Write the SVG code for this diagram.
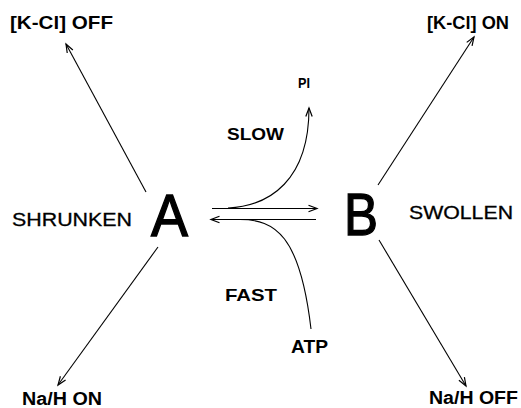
<svg xmlns="http://www.w3.org/2000/svg" width="521" height="408" viewBox="0 0 521 408">
<defs>
<style>
.lbl{font-family:"Liberation Sans",Arial,sans-serif;font-weight:bold;fill:#000}
.st{font-family:"Liberation Sans",Arial,sans-serif;font-size:18px;fill:#000;stroke:#000;stroke-width:0.3}
.big{font-family:"Liberation Sans",Arial,sans-serif;font-size:60px;fill:#000;stroke:#000;stroke-width:1.4}
.ln{fill:none;stroke:#000;stroke-width:1.1;marker-end:url(#ah)}
</style>
<marker id="ah" markerUnits="userSpaceOnUse" markerWidth="10" markerHeight="8" refX="8.5" refY="3.5" orient="auto" overflow="visible">
<path d="M0,0.3 L8.5,3.5 L0,6.7" fill="none" stroke="#000" stroke-width="1.2"/>
</marker>
</defs>
<rect width="521" height="408" fill="#fff"/>
<g id="nodeA"><text class="big" x="151" y="236" textLength="37" lengthAdjust="spacingAndGlyphs">A</text></g>
<g id="nodeB"><text class="big" x="344" y="235" textLength="34" lengthAdjust="spacingAndGlyphs">B</text></g>
<g id="shrunken"><text class="st" x="12" y="226" textLength="120" lengthAdjust="spacingAndGlyphs">SHRUNKEN</text></g>
<g id="swollen"><text class="st" x="409" y="219" textLength="104" lengthAdjust="spacingAndGlyphs">SWOLLEN</text></g>
<g id="kcl-off"><text class="lbl" font-size="19" x="10" y="29" textLength="103" lengthAdjust="spacingAndGlyphs">[K-Cl] OFF</text></g>
<g id="kcl-on"><text class="lbl" font-size="19" x="427" y="29" textLength="82" lengthAdjust="spacingAndGlyphs">[K-Cl] ON</text></g>
<g id="nah-on"><text class="lbl" font-size="18" x="22" y="405" textLength="80" lengthAdjust="spacingAndGlyphs">Na/H ON</text></g>
<g id="nah-off"><text class="lbl" font-size="18" x="429" y="404" textLength="89" lengthAdjust="spacingAndGlyphs">Na/H OFF</text></g>
<g id="pi"><text class="lbl" font-size="14" x="298" y="88" textLength="12" lengthAdjust="spacingAndGlyphs">PI</text></g>
<g id="atp"><text class="lbl" font-size="19" x="291" y="353" textLength="37" lengthAdjust="spacingAndGlyphs">ATP</text></g>
<g id="slow"><text class="lbl" font-size="17" x="227" y="140" textLength="57" lengthAdjust="spacingAndGlyphs">SLOW</text></g>
<g id="fast"><text class="lbl" font-size="17" x="225" y="301" textLength="52" lengthAdjust="spacingAndGlyphs">FAST</text></g>
<g id="connectors">
<path class="ln" d="M146,192 L66,44"/>
<path class="ln" d="M378,185 L474,37"/>
<path class="ln" d="M158,247 L58,385"/>
<path class="ln" d="M379,240 L466,386"/>
<path class="ln" d="M212,208.5 L317,208.5"/>
<path class="ln" d="M316,219.5 L211,219.5"/>
<path class="ln" d="M228,208 C270,206 309,180 309,108"/>
<path fill="none" stroke="#000" stroke-width="1.1" d="M240,219.5 C275,219.5 300,235 311,329"/>
</g>
</svg>
